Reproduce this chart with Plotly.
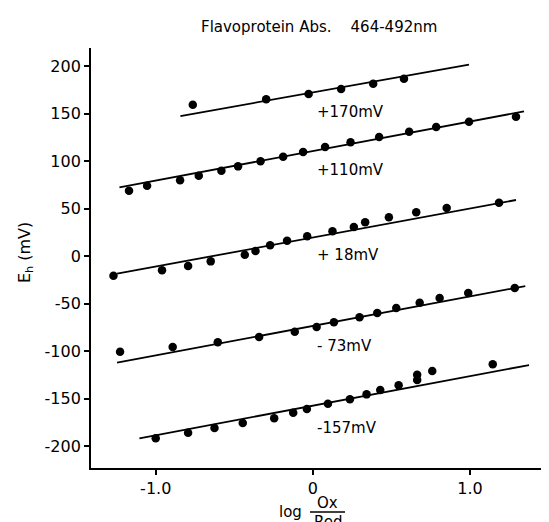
import plotly.graph_objects as go

# ---- data ----
s170_x = [-0.764, -0.297, -0.027, 0.180, 0.384, 0.580]
s170_y = [159.6, 165.3, 170.8, 176.1, 181.7, 186.9]
s170_line_x = [-0.843, 0.994]
s170_line_y = [147.7, 201.7]

s110_x = [-1.170, -1.055, -0.845, -0.726, -0.582, -0.476, -0.333, -0.189, -0.062,
          0.078, 0.240, 0.422, 0.613, 0.785, 0.994, 1.293]
s110_y = [69.1, 74.3, 80.0, 84.8, 90.1, 94.7, 100.0, 104.8, 109.8,
          115.1, 120.0, 125.6, 131.2, 136.1, 141.7, 146.9]
s110_line_x = [-1.231, 1.344]
s110_line_y = [72.6, 152.6]

s18_x = [-1.269, -0.960, -0.794, -0.650, -0.433, -0.365, -0.272, -0.164, -0.036,
         0.125, 0.261, 0.333, 0.484, 0.658, 0.852, 1.185]
s18_y = [-20.4, -14.7, -10.2, -5.3, 1.7, 5.6, 11.6, 16.4, 21.1,
         26.3, 30.8, 35.8, 41.1, 46.3, 50.8, 56.4]
s18_line_x = [-1.246, 1.293]
s18_line_y = [-18.3, 59.3]

m73_x = [-1.227, -0.892, -0.605, -0.342, -0.115, 0.024, 0.134, 0.297, 0.410,
         0.531, 0.680, 0.807, 0.989, 1.285]
m73_y = [-100.4, -95.5, -90.5, -84.9, -79.4, -74.4, -69.5, -64.2, -59.7,
         -54.4, -48.8, -43.9, -38.6, -33.4]
m73_line_x = [-1.246, 1.352]
m73_line_y = [-112.0, -31.3]

m157_x = [-1.000, -0.794, -0.626, -0.446, -0.246, -0.125, -0.038, 0.096, 0.236,
          0.342, 0.429, 0.546, 0.664, 0.664, 0.760, 1.145]
m157_y = [-191.6, -185.7, -180.7, -175.5, -170.5, -164.6, -160.7, -155.2, -150.5,
          -145.3, -140.7, -135.8, -130.2, -124.6, -120.7, -113.7]
m157_line_x = [-1.104, 1.376]
m157_line_y = [-191.6, -114.4]

series_labels = ["+170mV", "+110mV", "+ 18mV", "- 73mV", "-157mV"]
label_y = [151.9, 91.2, 1.7, -94.7, -180.7]

x_tickvals = [-1.0, 0, 1.0]
x_ticktext = ["-1.0", "0", "1.0"]
y_tickvals = [200, 150, 100, 50, 0, -50, -100, -150, -200]
y_ticktext = ["200", "150", "100", "50", "0", "-50", "-100", "-150", "-200"]

FONT = "DejaVu Sans"

fig = go.Figure()
series = [
    (s170_x, s170_y, s170_line_x, s170_line_y),
    (s110_x, s110_y, s110_line_x, s110_line_y),
    (s18_x, s18_y, s18_line_x, s18_line_y),
    (m73_x, m73_y, m73_line_x, m73_line_y),
    (m157_x, m157_y, m157_line_x, m157_line_y),
]
for px, py, lx, ly in series:
    fig.add_trace(go.Scatter(x=lx, y=ly, mode="lines",
                             line=dict(color="black", width=1.8),
                             showlegend=False, hoverinfo="skip"))
    fig.add_trace(go.Scatter(x=px, y=py, mode="markers",
                             marker=dict(color="black", size=8.5),
                             showlegend=False))

for lab, ly in zip(series_labels, label_y):
    fig.add_annotation(x=0.013, y=ly, text=lab, showarrow=False, xanchor="left",
                       yanchor="middle", font=dict(family=FONT, size=15, color="black"))

# title
fig.add_annotation(xref="paper", yref="paper", x=(311 - 83) / 466, y=(460 - 19) / 420,
                   text="Flavoprotein Abs.&nbsp;&nbsp;&nbsp;&nbsp;464-492nm",
                   showarrow=False, xanchor="center", yanchor="middle",
                   font=dict(family=FONT, size=15, color="black"))
# y axis title
fig.add_annotation(xref="paper", yref="paper", x=(17 - 83) / 466, y=(460 - 245) / 420,
                   text="E<sub>h</sub> (mV)", textangle=-90, showarrow=False,
                   xanchor="center", yanchor="middle",
                   font=dict(family=FONT, size=16, color="black"))
# x axis title: log Ox/Red
fig.add_annotation(xref="paper", yref="paper", x=(282 - 83) / 466, y=(460 - 504) / 420,
                   text="log", showarrow=False, xanchor="center", yanchor="middle",
                   font=dict(family=FONT, size=15, color="black"))
fig.add_annotation(xref="paper", yref="paper", x=(319 - 83) / 466, y=(460 - 495) / 420,
                   text="Ox", showarrow=False, xanchor="center", yanchor="middle",
                   font=dict(family=FONT, size=15, color="black"))
fig.add_annotation(xref="paper", yref="paper", x=(320 - 83) / 466, y=(460 - 514) / 420,
                   text="Red", showarrow=False, xanchor="center", yanchor="middle",
                   font=dict(family=FONT, size=15, color="black"))
fig.add_shape(type="line", xref="paper", yref="paper",
              x0=(302 - 83) / 466, x1=(337 - 83) / 466,
              y0=(460 - 504) / 420, y1=(460 - 504) / 420,
              line=dict(color="black", width=1.5))

fig.update_xaxes(range=[-1.412, 1.554], tickvals=x_tickvals, ticktext=x_ticktext,
                 showgrid=False, zeroline=False, showline=True, linecolor="black",
                 linewidth=1.8, ticks="outside", ticklen=5, tickwidth=1.5,
                 tickcolor="black", tickfont=dict(family=FONT, size=16, color="black"))
fig.update_yaxes(range=[-222.8, 219.3], tickvals=y_tickvals, ticktext=y_ticktext,
                 showgrid=False, zeroline=False, showline=True, linecolor="black",
                 linewidth=1.8, ticks="outside", ticklen=5, tickwidth=1.5,
                 tickcolor="black", tickfont=dict(family=FONT, size=16, color="black"))

fig.update_layout(width=549, height=522, margin=dict(l=83, r=0, t=40, b=62),
                  plot_bgcolor="white", paper_bgcolor="white")
fig.write_html("out.html")
